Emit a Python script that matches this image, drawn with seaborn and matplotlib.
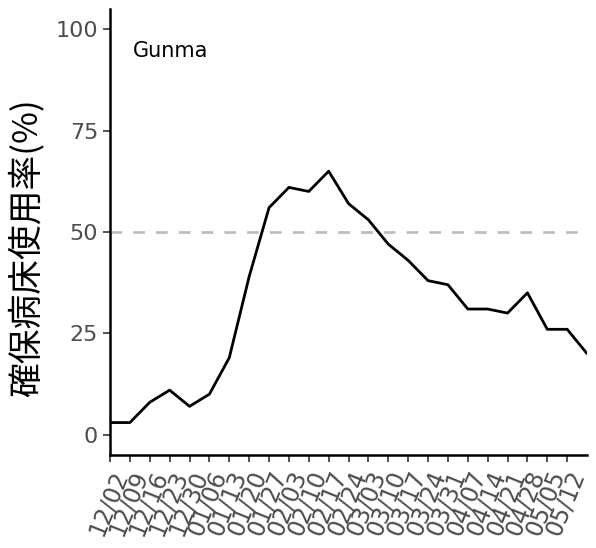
import pandas as pd
import numpy as np
import matplotlib
matplotlib.use("Agg")
import matplotlib.pyplot as plt
import seaborn as sns

# data (weekly)
dates = ["2020-12-02", "2020-12-09", "2020-12-16", "2020-12-23", "2020-12-30",
         "2021-01-06", "2021-01-13", "2021-01-20", "2021-01-27", "2021-02-03",
         "2021-02-10", "2021-02-17", "2021-02-24", "2021-03-03", "2021-03-10",
         "2021-03-17", "2021-03-24", "2021-03-31", "2021-04-07", "2021-04-14",
         "2021-04-21", "2021-04-28", "2021-05-05", "2021-05-12", "2021-05-19"]
usage = [3, 3, 8, 11, 7, 10, 19, 39, 56, 61, 60, 65, 57, 53, 47,
         43, 38, 37, 31, 31, 30, 35, 26, 26, 20]
tick_dates = dates[:24]
pref = "Gunma"
threshold = 50

sns.set_theme(style="ticks")
plt.rcParams['font.family'] = ['DejaVu Sans', 'Noto Sans CJK JP']

df = pd.DataFrame({"date": pd.to_datetime(dates), "usage": usage})

fig = plt.figure(figsize=(5.96, 5.48), dpi=100)
ax = fig.add_axes([0.1846, 0.1697, 0.8004, 0.8139])

ax.axhline(threshold, color="#BEBEBE", linewidth=2, linestyle=(0, (4.2, 4.0)), zorder=1)
sns.lineplot(data=df, x="date", y="usage", color="black", linewidth=2.0, ax=ax, zorder=2)

ax.set_xlim(df["date"].min(), df["date"].max())
ax.set_ylim(-5, 105)
ax.set_yticks([0, 25, 50, 75, 100])

ticks = pd.to_datetime(tick_dates)
ax.set_xticks(ticks)
ax.set_xticklabels([d.strftime("%m/%d") for d in ticks], rotation=68, ha="right", va="top",
                   rotation_mode="anchor", fontsize=17, color="#4D4D4D")
ax.tick_params(axis="y", labelsize=16, labelcolor="#4D4D4D")
ax.tick_params(axis="both", length=5, width=1.2, color="#333333", direction="out")

ax.set_xlabel("")
ax.set_ylabel("確保病床使用率(%)", fontsize=25, color="black",
              family=['Noto Sans CJK JP', 'DejaVu Sans'])
ax.yaxis.set_label_coords(-0.138, 0.464)

for s in ["left", "bottom"]:
    ax.spines[s].set_linewidth(1.8)
    ax.spines[s].set_color("black")
sns.despine(ax=ax)

ax.text(0.048, 0.906, pref, transform=ax.transAxes, fontsize=15, color="black", va="center")

fig.savefig("out.png", dpi=100)
